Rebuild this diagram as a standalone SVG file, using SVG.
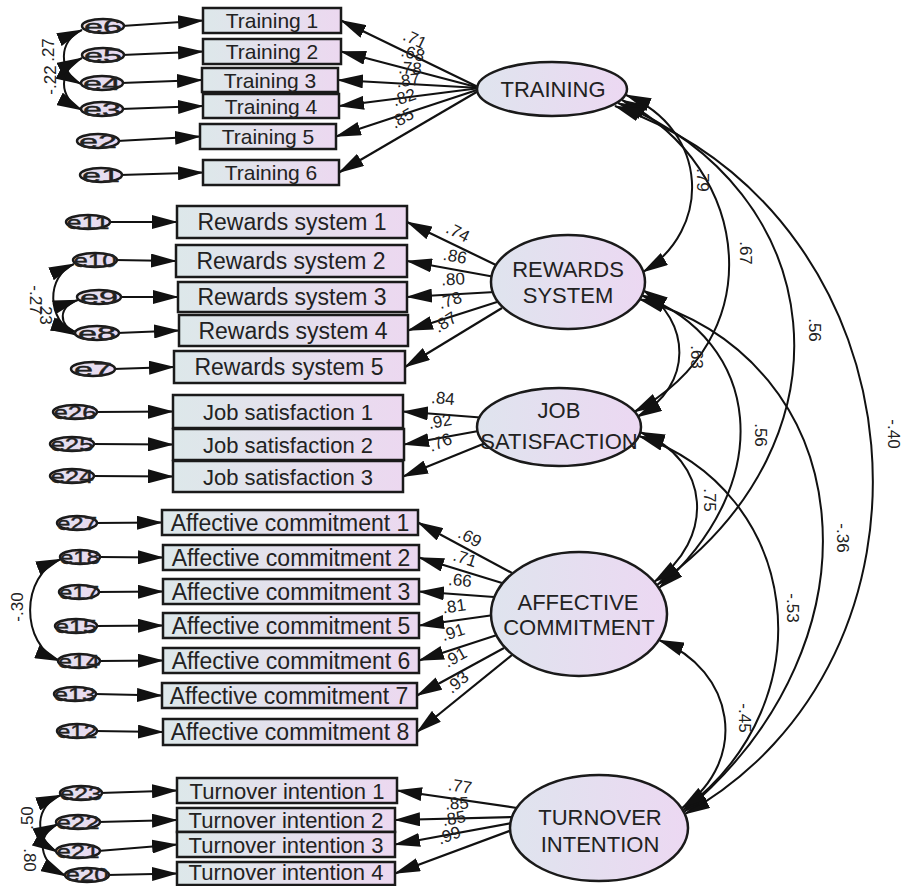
<svg xmlns="http://www.w3.org/2000/svg" width="905" height="886" viewBox="0 0 905 886">
<defs>
<linearGradient id="gb" x1="0" y1="0" x2="1" y2="0"><stop offset="0" stop-color="#dde8ea"/><stop offset="1" stop-color="#ecd8f0"/></linearGradient>
<linearGradient id="gl" x1="0" y1="0" x2="1" y2="0"><stop offset="0" stop-color="#dfe4ee"/><stop offset="1" stop-color="#ecd8f2"/></linearGradient>
<linearGradient id="ge" x1="0" y1="0" x2="1" y2="0"><stop offset="0" stop-color="#e3e2ee"/><stop offset="1" stop-color="#ead8f0"/></linearGradient>
<marker id="ah" viewBox="0 0 26 14" markerUnits="userSpaceOnUse" markerWidth="26" markerHeight="14" refX="25" refY="7" orient="auto-start-reverse"><path d="M0,0 L26,7 L0,14 z" fill="#111"/></marker>
<style>
.box{fill:url(#gb);stroke:#1a1a1a;stroke-width:2.5}
.lat{fill:url(#gl);stroke:#1a1a1a;stroke-width:2.5}
.err{fill:url(#ge);stroke:#1a1a1a;stroke-width:2.5}
.ln{stroke:#111;stroke-width:2.2;fill:none;marker-end:url(#ah)}
.cv{stroke:#111;stroke-width:2;fill:none;marker-start:url(#ah);marker-end:url(#ah)}
text{font-family:"Liberation Sans",Arial,sans-serif;fill:#222;text-anchor:middle}
.bt{font-size:22px}
.tt{font-size:21px}
.at{font-size:23px}
.lt{font-size:22px}
.et{font-size:19px;stroke:#222;stroke-width:0.4}
.nl{font-size:17px}
</style>
</defs>
<g id="connectors">
<path class="ln" d="M122 26 L203 20.5"/>
<path class="ln" d="M122 55 L203 51.5"/>
<path class="ln" d="M121 83 L202 80"/>
<path class="ln" d="M121 109 L203 106"/>
<path class="ln" d="M117 141 L200 136.5"/>
<path class="ln" d="M120 175 L203 172.5"/>
<path class="ln" d="M108 222 L177 222"/>
<path class="ln" d="M115 260 L176 261"/>
<path class="ln" d="M119 297 L178 297"/>
<path class="ln" d="M117 333 L179 330.5"/>
<path class="ln" d="M113 369 L174 367"/>
<path class="ln" d="M95 412 L173 411.5"/>
<path class="ln" d="M92 444 L173 444.5"/>
<path class="ln" d="M92 476 L173 476.5"/>
<path class="ln" d="M95 523 L162 522.5"/>
<path class="ln" d="M98 557 L163 557.5"/>
<path class="ln" d="M97 592 L163 591.5"/>
<path class="ln" d="M96 626 L163 625.5"/>
<path class="ln" d="M98 661 L163 660.5"/>
<path class="ln" d="M95 694 L162 695.5"/>
<path class="ln" d="M95 731 L163 732"/>
<path class="ln" d="M100 793 L177 790.5"/>
<path class="ln" d="M98 822 L177 820"/>
<path class="ln" d="M98 851 L177 844.5"/>
<path class="ln" d="M107 875 L177 873.5"/>
<path class="ln" d="M480 88 L341 20.5"/>
<path class="ln" d="M480 88 L341 51.5"/>
<path class="ln" d="M480 88 L338 80"/>
<path class="ln" d="M480 88 L339 106"/>
<path class="ln" d="M480 89 L336 136.5"/>
<path class="ln" d="M480 90 L339 172.5"/>
<path class="ln" d="M498 266 L407 222"/>
<path class="ln" d="M495 277 L407 261"/>
<path class="ln" d="M495 292 L407 297"/>
<path class="ln" d="M497 302 L408 330.5"/>
<path class="ln" d="M502 308 L405 367"/>
<path class="ln" d="M487 418 L403 411.5"/>
<path class="ln" d="M484 430 L404 444.5"/>
<path class="ln" d="M488 442 L403 476.5"/>
<path class="ln" d="M512 573 L418 522.5"/>
<path class="ln" d="M502 583 L419 557.5"/>
<path class="ln" d="M494 597 L419 591.5"/>
<path class="ln" d="M494 615 L419 625.5"/>
<path class="ln" d="M497 635 L419 660.5"/>
<path class="ln" d="M504 648 L417 695.5"/>
<path class="ln" d="M512 655 L417 732"/>
<path class="ln" d="M517 808 L397 790.5"/>
<path class="ln" d="M514 817 L395 820"/>
<path class="ln" d="M512 823 L395 844.5"/>
<path class="ln" d="M512 830 L395 873.5"/>
<g class="nl">
<text transform="translate(415 39) rotate(26)" dy="6">.71</text>
<text transform="translate(413 53) rotate(15)" dy="6">.68</text>
<text transform="translate(410 68) rotate(3)" dy="6">.78</text>
<text transform="translate(408 80) rotate(-7)" dy="6">.87</text>
<text transform="translate(404 97) rotate(-19)" dy="6">.82</text>
<text transform="translate(402 118) rotate(-30)" dy="6">.85</text>
<text transform="translate(458 232) rotate(27)" dy="6">.74</text>
<text transform="translate(455 256) rotate(11)" dy="6">.86</text>
<text transform="translate(453 279) rotate(-3)" dy="6">.80</text>
<text transform="translate(450 300) rotate(-18)" dy="6">.78</text>
<text transform="translate(445 322) rotate(-32)" dy="6">.87</text>
<text transform="translate(443 398) rotate(5)" dy="6">.84</text>
<text transform="translate(440 421) rotate(-10)" dy="6">.92</text>
<text transform="translate(440 442) rotate(-22)" dy="6">.76</text>
<text transform="translate(470 537) rotate(28)" dy="6">.69</text>
<text transform="translate(465 558) rotate(18)" dy="6">.71</text>
<text transform="translate(460 580) rotate(5)" dy="6">.66</text>
<text transform="translate(454 606) rotate(-8)" dy="6">.81</text>
<text transform="translate(453 632) rotate(-18)" dy="6">.91</text>
<text transform="translate(455 657) rotate(-29)" dy="6">.91</text>
<text transform="translate(457 682) rotate(-40)" dy="6">.93</text>
<text transform="translate(460 786) rotate(9)" dy="6">.77</text>
<text transform="translate(457 803) rotate(-2)" dy="6">.85</text>
<text transform="translate(454 818) rotate(-10)" dy="6">.85</text>
<text transform="translate(449 835) rotate(-20)" dy="6">.99</text>
</g>
<g class="nl">
<text transform="translate(48 50) rotate(-90)" dy="6">.27</text>
<text transform="translate(50 80) rotate(-90)" dy="6">-.22</text>
<text transform="translate(36 300) rotate(90)" dy="6">-.27</text>
<text transform="translate(46 313) rotate(90)" dy="6">.23</text>
<text transform="translate(17 607) rotate(-90)" dy="6">-.30</text>
<text transform="translate(27 818) rotate(-90)" dy="6">.50</text>
<text transform="translate(30 860) rotate(90)" dy="6">.80</text>
</g>
<path class="cv" d="M82 30 C58 40, 58 72, 81 84"/>
<path class="cv" d="M82 58 C58 70, 58 98, 82 110"/>
<path class="cv" d="M74 264 C46 276, 46 320, 76 335"/>
<path class="cv" d="M78 300 C58 306, 58 326, 76 332"/>
<path class="cv" d="M61 559 C20 575, 20 645, 60 661"/>
<path class="cv" d="M61 795 C35 805, 33 838, 57 852"/>
<path class="cv" d="M58 824 C35 835, 38 862, 66 876"/>
<path class="cv" d="M626 95 C710 130, 712 230, 643 272"/>
<path class="cv" d="M622 100 C755 170, 770 340, 634 412"/>
<path class="cv" d="M618 103 C830 190, 860 440, 657 585"/>
<path class="cv" d="M615 106 C930 220, 960 660, 685 814"/>
<path class="cv" d="M643 290 C690 320, 695 385, 637 417"/>
<path class="cv" d="M641 295 C760 340, 780 480, 659 588"/>
<path class="cv" d="M639 299 C860 360, 890 640, 684 812"/>
<path class="cv" d="M640 432 C712 460, 715 540, 654 582"/>
<path class="cv" d="M639 436 C800 490, 830 700, 683 810"/>
<path class="cv" d="M659 640 C735 670, 750 760, 682 808"/>
<g class="nl">
<text transform="translate(703 180) rotate(90)" dy="6">.79</text>
<text transform="translate(746 253) rotate(90)" dy="6">.67</text>
<text transform="translate(815 330) rotate(90)" dy="6">.56</text>
<text transform="translate(894 434) rotate(90)" dy="6">-.40</text>
<text transform="translate(697 357) rotate(90)" dy="6">.63</text>
<text transform="translate(761 435) rotate(90)" dy="6">.56</text>
<text transform="translate(843 538) rotate(90)" dy="6">-.36</text>
<text transform="translate(710 500) rotate(90)" dy="6">.75</text>
<text transform="translate(793 608) rotate(90)" dy="6">-.53</text>
<text transform="translate(745 718) rotate(90)" dy="6">-.45</text>
</g>
</g>
<g id="TRAINING"><ellipse class="lat" cx="552" cy="89" rx="75" ry="27"/><text class="lt" x="553" y="97">TRAINING</text></g>
<g id="REWARDS_SYSTEM"><ellipse class="lat" cx="568" cy="282" rx="77" ry="47"/><text class="lt" x="568" y="277">REWARDS</text><text class="lt" x="568" y="303">SYSTEM</text></g>
<g id="JOB_SATISFACTION"><ellipse class="lat" cx="559" cy="427" rx="82" ry="39"/><text class="lt" x="559" y="418">JOB</text><text class="lt" x="559" y="449">SATISFACTION</text></g>
<g id="AFFECTIVE_COMMITMENT"><ellipse class="lat" cx="579" cy="614" rx="88" ry="62"/><text class="lt" x="578" y="610">AFFECTIVE</text><text class="lt" x="579" y="635">COMMITMENT</text></g>
<g id="TURNOVER_INTENTION"><ellipse class="lat" cx="599" cy="828" rx="89" ry="53"/><text class="lt" x="600" y="825">TURNOVER</text><text class="lt" x="600" y="852">INTENTION</text></g>
<g id="Training1"><rect class="box" x="203" y="8" width="138" height="25"/><text class="tt" x="272" y="28">Training 1</text></g>
<g id="Training2"><rect class="box" x="203" y="39" width="138" height="25"/><text class="tt" x="272" y="59">Training 2</text></g>
<g id="Training3"><rect class="box" x="202" y="68" width="136" height="24"/><text class="tt" x="270" y="87.5">Training 3</text></g>
<g id="Training4"><rect class="box" x="203" y="94" width="136" height="24"/><text class="tt" x="271" y="113.5">Training 4</text></g>
<g id="Training5"><rect class="box" x="200" y="124" width="136" height="25"/><text class="tt" x="268" y="144">Training 5</text></g>
<g id="Training6"><rect class="box" x="203" y="160" width="136" height="25"/><text class="tt" x="271" y="180">Training 6</text></g>
<g id="RS1"><rect class="box" x="177" y="206" width="230" height="32"/><text class="at" x="292" y="230">Rewards system 1</text></g>
<g id="RS2"><rect class="box" x="176" y="245" width="231" height="32"/><text class="at" x="291" y="269">Rewards system 2</text></g>
<g id="RS3"><rect class="box" x="178" y="282" width="229" height="30"/><text class="at" x="292" y="305">Rewards system 3</text></g>
<g id="RS4"><rect class="box" x="179" y="315" width="229" height="31"/><text class="at" x="293" y="338.5">Rewards system 4</text></g>
<g id="RS5"><rect class="box" x="174" y="351" width="231" height="32"/><text class="at" x="289" y="375">Rewards system 5</text></g>
<g id="JS1"><rect class="box" x="173" y="395" width="230" height="33"/><text class="bt" x="288" y="419.5">Job satisfaction 1</text></g>
<g id="JS2"><rect class="box" x="173" y="429" width="231" height="31"/><text class="bt" x="288" y="452.5">Job satisfaction 2</text></g>
<g id="JS3"><rect class="box" x="173" y="461" width="230" height="31"/><text class="bt" x="288" y="484.5">Job satisfaction 3</text></g>
<g id="AC1"><rect class="box" x="162" y="510" width="256" height="25"/><text class="at" x="290" y="531">Affective commitment 1</text></g>
<g id="AC2"><rect class="box" x="163" y="545" width="256" height="25"/><text class="at" x="291" y="566">Affective commitment 2</text></g>
<g id="AC3"><rect class="box" x="163" y="579" width="256" height="25"/><text class="at" x="291" y="600">Affective commitment 3</text></g>
<g id="AC5"><rect class="box" x="163" y="613" width="256" height="25"/><text class="at" x="291" y="634">Affective commitment 5</text></g>
<g id="AC6"><rect class="box" x="163" y="648" width="256" height="25"/><text class="at" x="291" y="669">Affective commitment 6</text></g>
<g id="AC7"><rect class="box" x="162" y="683" width="255" height="25"/><text class="at" x="289" y="704">Affective commitment 7</text></g>
<g id="AC8"><rect class="box" x="163" y="719" width="254" height="26"/><text class="at" x="290" y="740">Affective commitment 8</text></g>
<g id="TI1"><rect class="box" x="177" y="778" width="220" height="25"/><text class="bt" x="287" y="798.5">Turnover intention 1</text></g>
<g id="TI2"><rect class="box" x="177" y="808" width="218" height="24"/><text class="bt" x="286" y="828">Turnover intention 2</text></g>
<g id="TI3"><rect class="box" x="177" y="832" width="218" height="25"/><text class="bt" x="286" y="852.5">Turnover intention 3</text></g>
<g id="TI4"><rect class="box" x="177" y="862" width="218" height="23"/><text class="bt" x="286" y="880">Turnover intention 4</text></g>
<g id="e6"><ellipse class="err" cx="103" cy="26" rx="21" ry="7"/><text class="et" x="103" y="33" textLength="38" lengthAdjust="spacingAndGlyphs">e6</text></g>
<g id="e5"><ellipse class="err" cx="103" cy="55" rx="21" ry="7"/><text class="et" x="103" y="62" textLength="38" lengthAdjust="spacingAndGlyphs">e5</text></g>
<g id="e4"><ellipse class="err" cx="102" cy="83" rx="21" ry="7"/><text class="et" x="102" y="90" textLength="38" lengthAdjust="spacingAndGlyphs">e4</text></g>
<g id="e3"><ellipse class="err" cx="102" cy="109" rx="21" ry="7"/><text class="et" x="102" y="116" textLength="38" lengthAdjust="spacingAndGlyphs">e3</text></g>
<g id="e2"><ellipse class="err" cx="98" cy="141" rx="21" ry="7"/><text class="et" x="98" y="148" textLength="38" lengthAdjust="spacingAndGlyphs">e2</text></g>
<g id="e1"><ellipse class="err" cx="101" cy="175" rx="21" ry="7"/><text class="et" x="101" y="182" textLength="38" lengthAdjust="spacingAndGlyphs">e1</text></g>
<g id="e11"><ellipse class="err" cx="88" cy="222" rx="22" ry="7"/><text class="et" x="88" y="229" textLength="43" lengthAdjust="spacingAndGlyphs">e11</text></g>
<g id="e10"><ellipse class="err" cx="95" cy="260" rx="22" ry="7"/><text class="et" x="95" y="267" textLength="43" lengthAdjust="spacingAndGlyphs">e10</text></g>
<g id="e9"><ellipse class="err" cx="99" cy="297" rx="22" ry="7"/><text class="et" x="99" y="304" textLength="38" lengthAdjust="spacingAndGlyphs">e9</text></g>
<g id="e8"><ellipse class="err" cx="97" cy="333" rx="22" ry="7"/><text class="et" x="97" y="340" textLength="38" lengthAdjust="spacingAndGlyphs">e8</text></g>
<g id="e7"><ellipse class="err" cx="93" cy="369" rx="22" ry="7"/><text class="et" x="93" y="376" textLength="38" lengthAdjust="spacingAndGlyphs">e7</text></g>
<g id="e26"><ellipse class="err" cx="75" cy="412" rx="22" ry="7"/><text class="et" x="75" y="419" textLength="43" lengthAdjust="spacingAndGlyphs">e26</text></g>
<g id="e25"><ellipse class="err" cx="72" cy="444" rx="22" ry="7"/><text class="et" x="72" y="451" textLength="43" lengthAdjust="spacingAndGlyphs">e25</text></g>
<g id="e24"><ellipse class="err" cx="72" cy="476" rx="22" ry="7"/><text class="et" x="72" y="483" textLength="43" lengthAdjust="spacingAndGlyphs">e24</text></g>
<g id="e27"><ellipse class="err" cx="77" cy="523" rx="20" ry="7"/><text class="et" x="77" y="530" textLength="40" lengthAdjust="spacingAndGlyphs">e27</text></g>
<g id="e18"><ellipse class="err" cx="80" cy="557" rx="20" ry="7"/><text class="et" x="80" y="564" textLength="40" lengthAdjust="spacingAndGlyphs">e18</text></g>
<g id="e17"><ellipse class="err" cx="79" cy="592" rx="20" ry="7"/><text class="et" x="79" y="599" textLength="40" lengthAdjust="spacingAndGlyphs">e17</text></g>
<g id="e15"><ellipse class="err" cx="76" cy="626" rx="21" ry="7"/><text class="et" x="76" y="633" textLength="42" lengthAdjust="spacingAndGlyphs">e15</text></g>
<g id="e14"><ellipse class="err" cx="79" cy="661" rx="21" ry="7"/><text class="et" x="79" y="668" textLength="42" lengthAdjust="spacingAndGlyphs">e14</text></g>
<g id="e13"><ellipse class="err" cx="75" cy="694" rx="21" ry="7"/><text class="et" x="75" y="701" textLength="42" lengthAdjust="spacingAndGlyphs">e13</text></g>
<g id="e12"><ellipse class="err" cx="77" cy="731" rx="20" ry="7"/><text class="et" x="77" y="738" textLength="40" lengthAdjust="spacingAndGlyphs">e12</text></g>
<g id="e23"><ellipse class="err" cx="81" cy="793" rx="21" ry="7"/><text class="et" x="81" y="800" textLength="42" lengthAdjust="spacingAndGlyphs">e23</text></g>
<g id="e22"><ellipse class="err" cx="78" cy="822" rx="22" ry="7"/><text class="et" x="78" y="829" textLength="43" lengthAdjust="spacingAndGlyphs">e22</text></g>
<g id="e21"><ellipse class="err" cx="78" cy="851" rx="22" ry="7"/><text class="et" x="78" y="858" textLength="43" lengthAdjust="spacingAndGlyphs">e21</text></g>
<g id="e20"><ellipse class="err" cx="87" cy="875" rx="22" ry="7"/><text class="et" x="87" y="881" textLength="43" lengthAdjust="spacingAndGlyphs">e20</text></g>
</svg>
